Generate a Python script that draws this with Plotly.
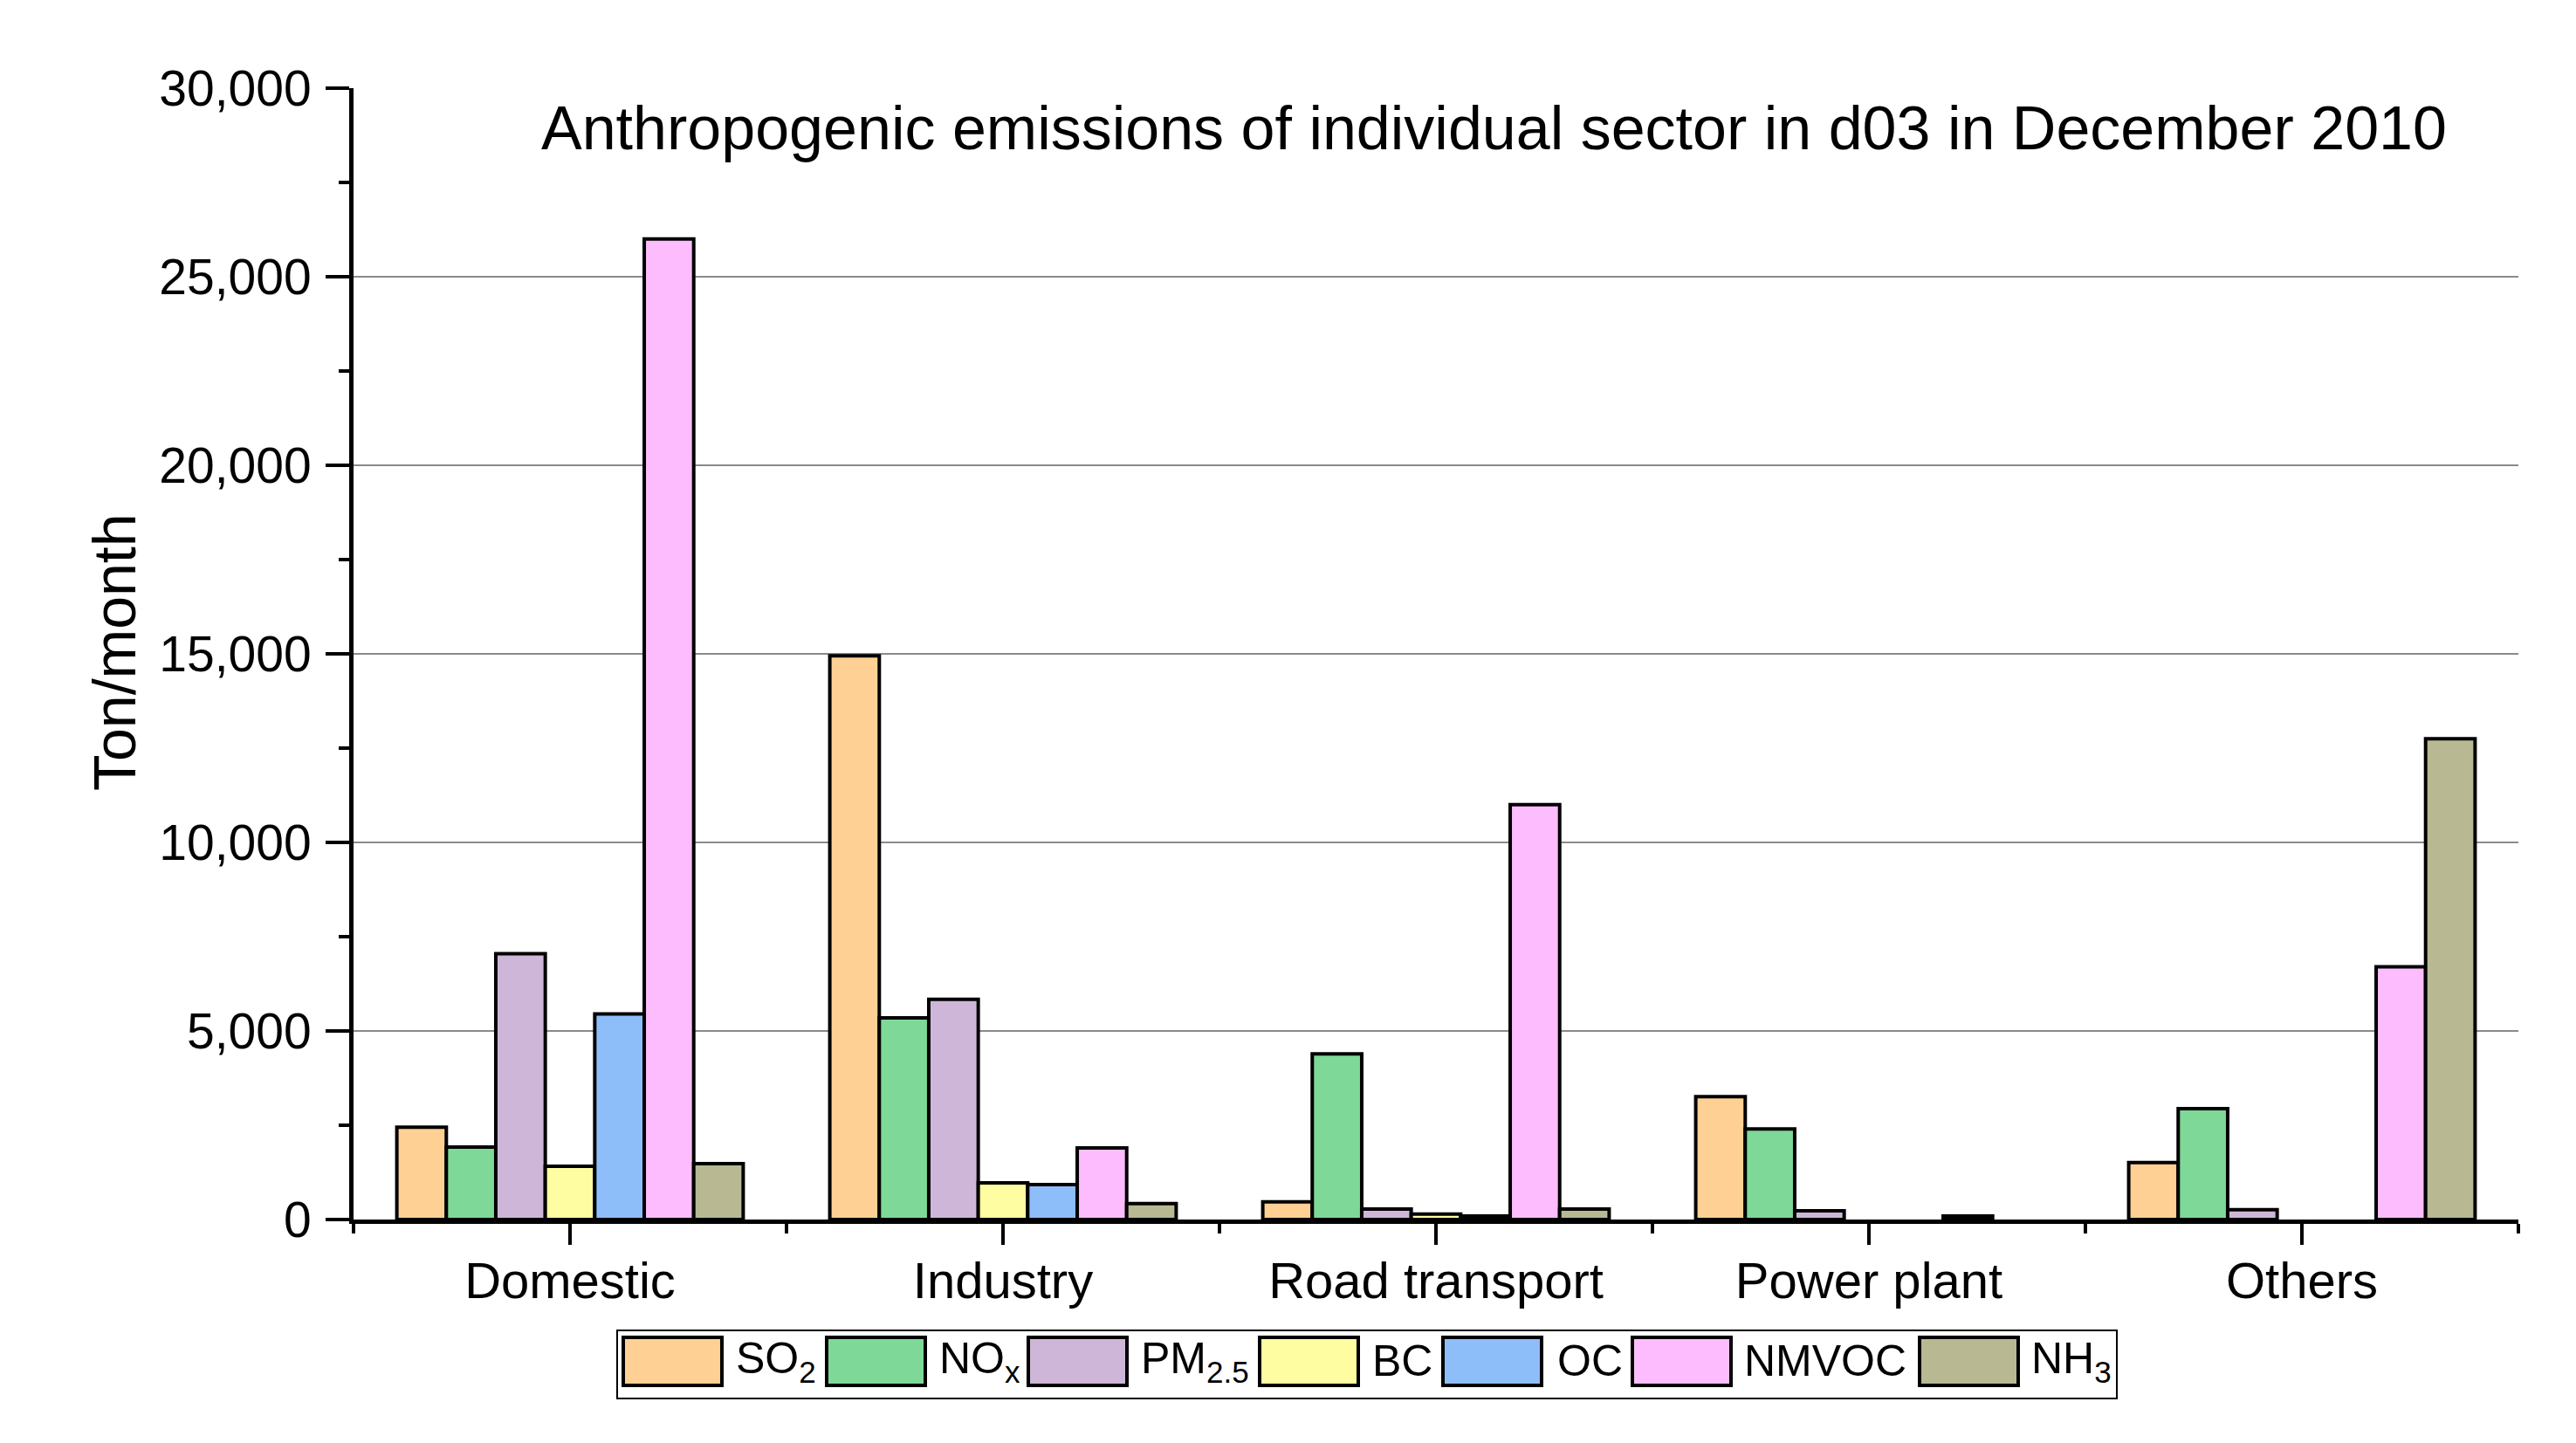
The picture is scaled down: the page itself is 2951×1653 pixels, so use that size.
import plotly.graph_objects as go

# ---- data ----
sectors = ["Domestic", "Industry", "Road transport", "Power plant", "Others"]
species = ["SO<sub>2</sub>", "NO<sub>x</sub>", "PM<sub>2.5</sub>", "BC", "OC", "NMVOC", "NH<sub>3</sub>"]
so2 = [2450, 14950, 470, 3260, 1510]
nox = [1920, 5350, 4390, 2400, 2940]
pm25 = [7050, 5840, 280, 230, 260]
bc = [1410, 970, 145, 0, 0]
oc = [5450, 925, 90, 0, 0]
nmvoc = [26000, 1900, 11000, 90, 6700]
nh3 = [1480, 420, 280, 0, 12750]
y_ticks = [0, 5000, 10000, 15000, 20000, 25000, 30000]
title_text = "Anthropogenic emissions of individual sector in d03 in December 2010"
y_title = "Ton/month"

series = [so2, nox, pm25, bc, oc, nmvoc, nh3]
colors = ["#FFD093", "#7ED898", "#CEB6D8", "#FFFDA1", "#8EBEF9", "#FDBCFD", "#B8B893"]

OFF = 8  # default page body margin
W, H = 2951 - OFF, 1653 - OFF
# plot area in page pixels: x 405..2885, y 101..1397
L, T = 405 - OFF, 101 - OFF
R = W - (2885 - OFF)
B = H - (1397 - OFF)
PW, PH = W - L - R, H - T - B
FONT = "Liberation Sans, Arial, sans-serif"


def px(x):
    return (x - OFF - L) / PW


def py(y):
    return (H - B - (y - OFF)) / PH


fig = go.Figure()
xs = list(range(len(sectors)))
for name, vals, col in zip(species, series, colors):
    lw = [4 if v > 0 else 0 for v in vals]
    fig.add_trace(go.Bar(x=xs, y=vals, name=name, marker=dict(color=col, line=dict(color="black", width=lw)),
                         showlegend=False))

shapes = []
for v in y_ticks[1:-1]:
    shapes.append(dict(type="line", xref="paper", yref="y", x0=0, x1=1, y0=v, y1=v,
                       line=dict(color="#8a8a8a", width=2), layer="below"))

# legend box
shapes.append(dict(type="rect", xref="paper", yref="paper", x0=px(707), x1=px(2425), y0=py(1602), y1=py(1524),
                   line=dict(color="black", width=2), fillcolor="white"))
annotations = []
sw_left = [714, 947, 1178, 1443, 1653, 1870, 2199]
txt_left = [841, 1074, 1305, 1570, 1782, 1996, 2325]
for name, col, sx, tx in zip(species, colors, sw_left, txt_left):
    shapes.append(dict(type="rect", xref="paper", yref="paper", x0=px(sx), x1=px(sx + 113),
                       y0=py(1587), y1=py(1532), fillcolor=col, line=dict(color="black", width=4)))
    annotations.append(dict(xref="paper", yref="paper", x=px(tx), y=py(1559), text=name, showarrow=False,
                            xanchor="left", yanchor="middle", font=dict(family=FONT, size=50, color="black")))

annotations.append(dict(xref="paper", yref="paper", x=px(1711), y=py(147), text=title_text, showarrow=False,
                        xanchor="center", yanchor="middle", font=dict(family=FONT, size=70, color="black")))
annotations.append(dict(xref="paper", yref="paper", x=px(131), y=py(747), text=y_title, showarrow=False,
                        textangle=-90, xanchor="center", yanchor="middle",
                        font=dict(family=FONT, size=68, color="black")))

fig.update_layout(
    width=W, height=H,
    margin=dict(l=L, r=R, t=T, b=B, pad=0),
    paper_bgcolor="white", plot_bgcolor="white",
    barmode="group", bargap=0.2, bargroupgap=0,
    shapes=shapes, annotations=annotations,
    font=dict(family=FONT, color="black"),
    xaxis=dict(range=[-0.5, 4.5], tickmode="array", tickvals=xs, ticktext=sectors,
               showline=True, linecolor="black", linewidth=5, ticks="outside", ticklen=24, tickwidth=4,
               tickcolor="black", showgrid=False, zeroline=False,
               tickfont=dict(family=FONT, size=58, color="black"), ticklabelstandoff=-9,
               minor=dict(tick0=-0.5, dtick=1, ticks="outside", ticklen=11, tickwidth=4, tickcolor="black",
                          showgrid=False)),
    yaxis=dict(range=[0, 30000], tickmode="array", tickvals=y_ticks, tickformat=",d",
               showline=True, linecolor="black", linewidth=5, ticks="outside", ticklen=27, tickwidth=4,
               tickcolor="black", showgrid=False, zeroline=False,
               tickfont=dict(family=FONT, size=57, color="black"), ticklabelstandoff=5,
               minor=dict(tick0=0, dtick=2500, ticks="outside", ticklen=12, tickwidth=4, tickcolor="black",
                          showgrid=False)),
)

fig.write_html("out.html")
